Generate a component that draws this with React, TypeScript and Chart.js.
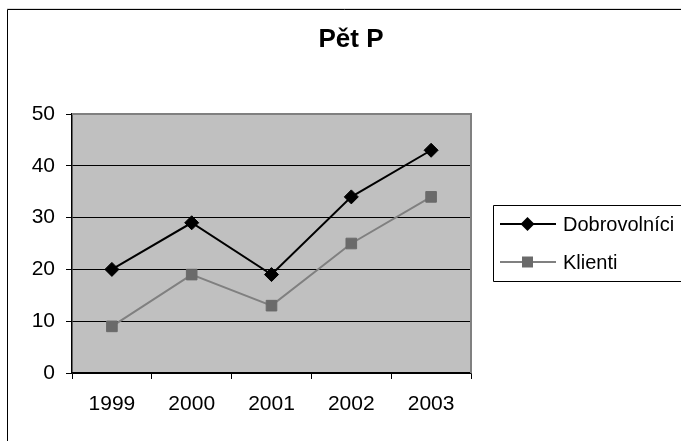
import React, { useEffect, useRef } from "react";
import { Chart, registerables } from "chart.js";

Chart.register(...registerables);

const chartTitle = "Pět P";
const categories = ["1999", "2000", "2001", "2002", "2003"];
const seriesNames = ["Dobrovolníci", "Klienti"];
const dobrovolnici = [20, 29, 19, 34, 43];
const klienti = [9, 19, 13, 25, 34];
const yTicks = [0, 10, 20, 30, 40, 50];

const FONT = "'Liberation Sans', Arial, sans-serif";

const framePlugin = {
  id: "frame",
  beforeDraw(chart: any) {
    const { ctx, chartArea: a } = chart;
    ctx.save();
    ctx.fillStyle = "#ffffff";
    ctx.fillRect(0, 0, chart.width, chart.height);
    ctx.fillStyle = "#c0c0c0";
    ctx.fillRect(a.left, a.top, a.right - a.left, a.bottom - a.top);
    ctx.restore();
  },
  beforeDatasetsDraw(chart: any) {
    const { ctx, chartArea: a } = chart;
    ctx.save();
    ctx.strokeStyle = "#808080";
    ctx.lineWidth = 2;
    ctx.beginPath();
    ctx.moveTo(a.left, a.top);
    ctx.lineTo(a.right, a.top);
    ctx.lineTo(a.right, a.bottom);
    ctx.stroke();
    ctx.restore();
  },
  afterDraw(chart: any) {
    const { ctx } = chart;
    ctx.save();
    // outer chart frame (top + left visible)
    ctx.strokeStyle = "#dddddd";
    ctx.lineWidth = 1;
    ctx.beginPath();
    ctx.moveTo(0, 0.5);
    ctx.lineTo(chart.width, 0.5);
    ctx.stroke();
    ctx.strokeStyle = "#000000";
    ctx.beginPath();
    ctx.moveTo(0.5, chart.height);
    ctx.lineTo(0.5, 1.5);
    ctx.lineTo(chart.width, 1.5);
    ctx.stroke();

    // title
    ctx.fillStyle = "#000000";
    ctx.font = `bold 26px ${FONT}`;
    ctx.textAlign = "center";
    ctx.textBaseline = "alphabetic";
    ctx.fillText(chartTitle, 344, 39);

    // legend
    const bx = 486.5, by = 197.5, bh = 76;
    ctx.strokeStyle = "#000000";
    ctx.lineWidth = 1;
    ctx.beginPath();
    ctx.moveTo(chart.width + 5, by);
    ctx.lineTo(bx, by);
    ctx.lineTo(bx, by + bh);
    ctx.lineTo(chart.width + 5, by + bh);
    ctx.stroke();

    const rows = [216, 254];
    chart.data.datasets.forEach((ds: any, i: number) => {
      const y = rows[i];
      ctx.strokeStyle = ds.borderColor;
      ctx.lineWidth = 2;
      ctx.beginPath();
      ctx.moveTo(493, y);
      ctx.lineTo(549, y);
      ctx.stroke();
      ctx.fillStyle = ds.pointBackgroundColor;
      const cx = 520.5;
      ctx.beginPath();
      if (ds.pointStyle === "rectRot") {
        const r = 7;
        ctx.moveTo(cx - r, y);
        ctx.lineTo(cx, y - r);
        ctx.lineTo(cx + r, y);
        ctx.lineTo(cx, y + r);
        ctx.closePath();
      } else {
        const s = 5.5;
        ctx.rect(cx - s, y - s, 2 * s, 2 * s);
      }
      ctx.fill();
      ctx.fillStyle = "#000000";
      ctx.font = `20px ${FONT}`;
      ctx.textAlign = "left";
      ctx.textBaseline = "middle";
      ctx.fillText(ds.label, 556, y + 1);
    });
    ctx.restore();
  },
};

export default function App() {
  const canvasRef = useRef<HTMLCanvasElement | null>(null);

  useEffect(() => {
    if (!canvasRef.current) return;
    const chart = new Chart(canvasRef.current, {
      type: "line",
      data: {
        labels: categories,
        datasets: [
          {
            label: seriesNames[0],
            data: dobrovolnici,
            borderColor: "#000000",
            backgroundColor: "#000000",
            borderWidth: 2,
            pointStyle: "rectRot",
            pointRadius: 7,
            pointBorderWidth: 1,
            pointBackgroundColor: "#000000",
            pointBorderColor: "#000000",
            tension: 0,
          },
          {
            label: seriesNames[1],
            data: klienti,
            borderColor: "#808080",
            backgroundColor: "#6a6a6a",
            borderWidth: 2,
            pointStyle: "rect",
            pointRadius: 7.5,
            pointBorderWidth: 1,
            pointBackgroundColor: "#6a6a6a",
            pointBorderColor: "#6a6a6a",
            tension: 0,
          },
        ],
      } as any,
      options: {
        animation: false,
        responsive: true,
        maintainAspectRatio: false,
        layout: { padding: { left: 0, right: 210, top: 106, bottom: 0 } },
        plugins: {
          legend: { display: false },
          title: { display: false },
          tooltip: { enabled: false },
        },
        scales: {
          x: {
            type: "category",
            offset: true,
            grid: {
              offset: true,
              drawOnChartArea: false,
              drawTicks: true,
              tickLength: 6,
              color: "#000000",
              lineWidth: 1,
            },
            border: { display: true, color: "#000000", width: 1.5 },
            ticks: {
              color: "#000000",
              font: { family: FONT, size: 21 },
              padding: 13,
              maxRotation: 0,
              autoSkip: false,
            },
            afterFit(scale: any) {
              scale.height = 68;
            },
          },
          y: {
            min: yTicks[0],
            max: yTicks[yTicks.length - 1],
            afterBuildTicks(scale: any) {
              scale.ticks = yTicks.map((v) => ({ value: v }));
            },
            grid: {
              color: "#000000",
              lineWidth: 1,
              drawTicks: true,
              tickLength: 6,
            },
            border: { display: true, color: "#000000", width: 1.5 },
            ticks: {
              color: "#000000",
              font: { family: FONT, size: 21 },
              padding: 11,
            },
            afterFit(scale: any) {
              scale.width = 65;
            },
          },
        },
      } as any,
      plugins: [framePlugin],
    });
    return () => chart.destroy();
  }, []);

  return (
    <div style={{ position: "fixed", left: 7, top: 8, width: 674, height: 433 }}>
      <canvas ref={canvasRef} />
    </div>
  );
}
